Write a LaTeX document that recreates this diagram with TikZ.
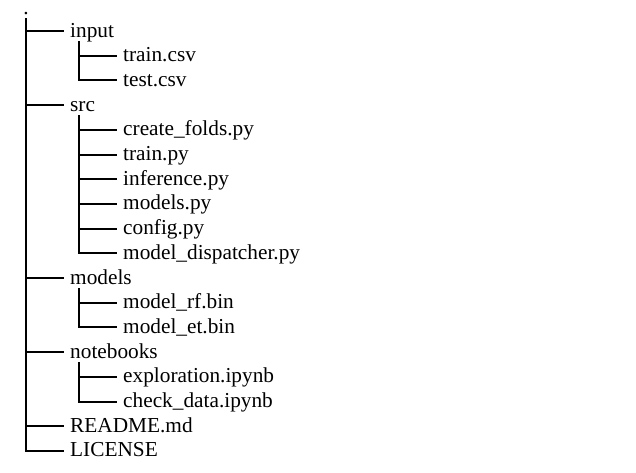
\documentclass[tikz,border=0pt]{standalone}
\usepackage{fontspec}
\setmainfont{Liberation Serif}
\begin{document}
\begin{tikzpicture}[x=1pt,y=-1pt,
  entry/.style={anchor=west, inner xsep=6pt, inner ysep=0pt,
    text height=16pt, text depth=4pt,
    font=\fontsize{21.3}{25}\selectfont},
  branch/.style={line width=2pt, black}]
\useasboundingbox (0,0) rectangle (636,472);

% project root
\node[anchor=base, inner sep=0pt, font=\fontsize{21.3}{25}\selectfont] (root) at (26,14) {.};
\coordinate (trunk) at (26,18);

% top-level entries
\node[entry] (input)   at (64,31)    {input};
\node[entry] (src)     at (64,105.1) {src};
\node[entry] (mdir)    at (64,278)   {models};
\node[entry] (nb)      at (64,352.1) {notebooks};
\node[entry] (readme)  at (64,426.2) {README.md};
\node[entry] (license) at (64,450.9) {LICENSE};

% input/
\node[entry] (traincsv) at (117,55.7) {train.csv};
\node[entry] (testcsv)  at (117,80.4) {test.csv};

% src/
\node[entry] (folds)   at (117,129.8) {create\_folds.py};
\node[entry] (trainpy) at (117,154.5) {train.py};
\node[entry] (infer)   at (117,179.2) {inference.py};
\node[entry] (mpy)     at (117,203.9) {models.py};
\node[entry] (config)  at (117,228.6) {config.py};
\node[entry] (disp)    at (117,253.3) {model\_dispatcher.py};

% models/
\node[entry] (rf) at (117,302.7) {model\_rf.bin};
\node[entry] (et) at (117,327.4) {model\_et.bin};

% notebooks/
\node[entry] (expl)  at (117,376.8) {exploration.ipynb};
\node[entry] (check) at (117,401.5) {check\_data.ipynb};

% branches from the root
\foreach \n in {input,src,mdir,nb,readme,license}
  \draw[branch] (trunk) |- (\n.west);

% branches inside each folder
\foreach \n in {traincsv,testcsv}
  \draw[branch] ([xshift=15pt]input.south west) |- (\n.west);
\foreach \n in {folds,trainpy,infer,mpy,config,disp}
  \draw[branch] ([xshift=15pt]src.south west) |- (\n.west);
\foreach \n in {rf,et}
  \draw[branch] ([xshift=15pt]mdir.south west) |- (\n.west);
\foreach \n in {expl,check}
  \draw[branch] ([xshift=15pt]nb.south west) |- (\n.west);
\end{tikzpicture}
\end{document}
